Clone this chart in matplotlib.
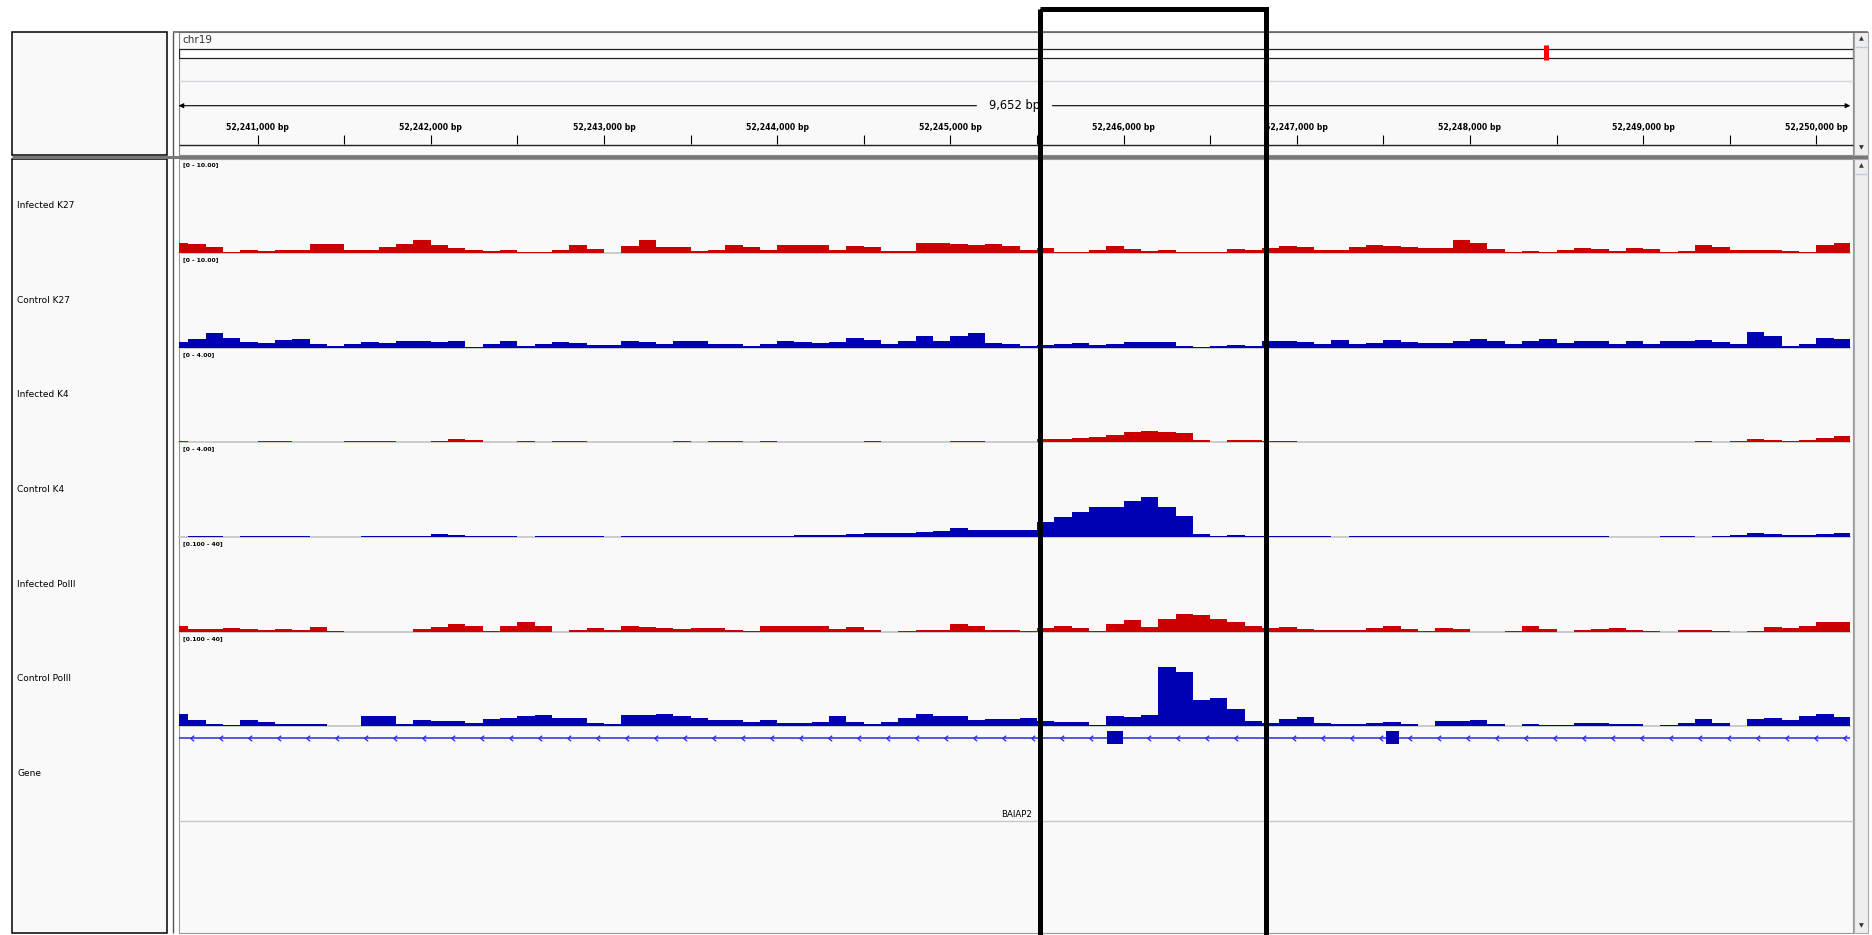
import numpy as np
import matplotlib
matplotlib.use('Agg')
import matplotlib.pyplot as plt
from matplotlib.patches import Rectangle
from matplotlib.path import Path

W, H = 1872, 935

# locus shown in the browser
chrom = 'chr19'
chrom_length = 64000000
view_start = 52240544
view_end = 52250196
bin_start = 52240500
bin_size = 100

# highlighted region (black box)
highlight = (52245520, 52246820)

track_names = ['Infected K27', 'Control K27', 'Infected K4', 'Control K4',
               'Infected PolII', 'Control PolII']
range_labels = ['[0 - 10.00]', '[0 - 10.00]', '[0 - 4.00]', '[0 - 4.00]',
                '[0.100 - 40]', '[0.100 - 40]']
track_limits = [(0, 10.0), (0, 10.0), (0, 4.0), (0, 4.0), (0.1, 40.0), (0.1, 40.0)]

# coverage, 100 bp bins starting at bin_start
inf_k27 = [1.05, 0.95, 0.6, 0.1, 0.3, 0.2, 0.3, 0.3, 0.95, 0.9,
           0.35, 0.35, 0.65, 0.9, 1.35, 0.85, 0.55, 0.35, 0.25, 0.3,
           0.05, 0.1, 0.3, 0.8, 0.4, 0.0, 0.7, 1.4, 0.65, 0.65,
           0.2, 0.3, 0.85,
           0.65, 0.35, 0.8, 0.85, 0.8, 0.3, 0.7, 0.65, 0.2, 0.2,
           1.0, 1.0, 0.9, 0.85, 0.9, 0.7, 0.3, 0.5, 0.1, 0.1,
           0.3, 0.7, 0.45, 0.2, 0.3, 0.1, 0.05, 0.05, 0.45, 0.35,
           0.5, 0.7,
           0.65, 0.3, 0.35, 0.65, 0.8, 0.7, 0.65, 0.55, 0.55, 1.4,
           1.1, 0.45, 0.15, 0.2, 0.05, 0.35, 0.5, 0.45, 0.2, 0.5,
           0.45, 0.15, 0.2, 0.85, 0.65, 0.3, 0.35, 0.3, 0.2, 0.1,
           0.85, 1.0]
ctrl_k27 = [0.55, 0.9, 1.5, 1.0, 0.55, 0.5, 0.8, 0.9, 0.35, 0.2,
            0.35, 0.55, 0.5, 0.7, 0.65, 0.55, 0.7, 0.1, 0.35, 0.75,
            0.2, 0.4, 0.55, 0.5, 0.25, 0.25, 0.7, 0.55, 0.35, 0.7,
            0.75, 0.4, 0.35,
            0.2, 0.35, 0.7, 0.55, 0.5, 0.55, 1.0, 0.85, 0.4, 0.65,
            1.25, 0.75, 1.25, 1.5, 0.5, 0.4, 0.2, 0.3, 0.35, 0.5,
            0.3, 0.4, 0.55, 0.55, 0.55, 0.15, 0.05, 0.2, 0.3, 0.2,
            0.65, 0.7,
            0.55, 0.4, 0.85, 0.4, 0.5, 0.85, 0.55, 0.5, 0.5, 0.7,
            0.9, 0.65, 0.4, 0.75, 0.9, 0.5, 0.7, 0.65, 0.4, 0.65,
            0.35, 0.7, 0.75, 0.85, 0.55, 0.35, 1.6, 1.2, 0.15, 0.35,
            1.05, 0.9]
inf_k4 = [0.04, 0.02, 0.03, 0.02, 0.0, 0.04, 0.04, 0.02, 0.0, 0.02,
          0.04, 0.07, 0.05, 0.02, 0.03, 0.06, 0.12, 0.1, 0.02, 0.0,
          0.04, 0.02, 0.05, 0.05, 0.02, 0.0, 0.03, 0.02, 0.0, 0.04,
          0.02, 0.04, 0.04,
          0.03, 0.04, 0.03, 0.03, 0.02, 0.03, 0.03, 0.04, 0.03, 0.02,
          0.03, 0.03, 0.05, 0.05, 0.03, 0.02, 0.02, 0.12, 0.16, 0.19,
          0.22, 0.3, 0.43, 0.46, 0.44, 0.4, 0.08, 0.02, 0.1, 0.08,
          0.04, 0.05,
          0.02, 0.01, 0.03, 0.03, 0.02, 0.03, 0.03, 0.03, 0.03, 0.03,
          0.0, 0.02, 0.0, 0.01, 0.02, 0.03, 0.03, 0.03, 0.0, 0.03,
          0.03, 0.03, 0.01, 0.04, 0.03, 0.06, 0.12, 0.1, 0.07, 0.11,
          0.2, 0.28]
ctrl_k4 = [0.01, 0.03, 0.03, 0.0, 0.03, 0.03, 0.03, 0.02, 0.0, 0.0,
           0.0, 0.02, 0.02, 0.03, 0.06, 0.12, 0.1, 0.05, 0.04, 0.03,
           0.0, 0.03, 0.04, 0.05, 0.03, 0.01, 0.05, 0.04, 0.03, 0.02,
           0.05, 0.06, 0.05,
           0.04, 0.04, 0.06, 0.08, 0.08, 0.08, 0.11, 0.15, 0.15, 0.18,
           0.23, 0.25, 0.37, 0.31, 0.31, 0.28, 0.31, 0.65, 0.85, 1.05,
           1.25, 1.25, 1.5, 1.7, 1.25, 0.9, 0.12, 0.04, 0.07, 0.06,
           0.04, 0.04,
           0.02, 0.02, 0.0, 0.02, 0.02, 0.02, 0.02, 0.02, 0.03, 0.03,
           0.03, 0.02, 0.04, 0.04, 0.03, 0.03, 0.03, 0.03, 0.01, 0.0,
           0.01, 0.04, 0.03, 0.0, 0.03, 0.08, 0.16, 0.12, 0.08, 0.1,
           0.12, 0.16]
inf_pol2 = [2.5, 1.2, 1.2, 1.6, 1.2, 0.65, 1.2, 0.9, 2.1, 0.5,
            0.1, 0.1, 0.1, 0.1, 1.2, 2.1, 3.2, 2.35, 0.4, 2.6,
            4.2, 2.6, 0.1, 0.65, 1.8, 0.9, 2.35, 2.1, 1.5, 1.2,
            1.8, 1.5, 0.9,
            0.4, 2.6, 2.35, 2.6, 2.6, 1.2, 2.1, 0.65, 0.1, 0.4,
            0.9, 0.65, 3.2, 2.6, 0.9, 0.65, 0.4, 1.8, 2.6, 1.5,
            0.4, 3.5, 4.9, 2.1, 5.6, 7.7, 7.1, 5.4, 4.2, 2.6,
            1.5, 2.1,
            1.2, 0.65, 0.65, 0.9, 1.8, 2.6, 1.2, 0.4, 1.8, 1.2,
            0.1, 0.1, 0.4, 2.35, 1.2, 0.1, 0.65, 1.2, 1.5, 0.9,
            0.4, 0.1, 0.65, 0.65, 0.4, 0.1, 0.4, 2.1, 1.8, 2.6,
            4.3, 4.3]
ctrl_pol2 = [5.2, 2.6, 0.95, 0.65, 2.6, 1.8, 0.95, 0.95, 1.2, 0.4,
             0.1, 4.3, 4.6, 1.2, 2.9, 2.35, 2.35, 1.5, 3.2, 3.75,
             4.6, 4.9, 3.75, 3.75, 1.5, 0.95, 4.9, 4.9, 5.4, 4.3,
             3.5, 2.6, 2.6,
             1.8, 2.9, 1.5, 1.5, 1.8, 4.6, 1.8, 0.95, 2.1, 3.75,
             5.2, 4.6, 4.6, 2.9, 3.2, 3.2, 3.5, 2.35, 1.8, 1.8,
             0.6, 4.3, 4.0, 5.0, 25.0, 23.0, 11.0, 12.2, 7.5, 2.2,
             1.5, 3.2,
             4.0, 1.5, 1.2, 1.2, 1.5, 1.8, 1.2, 0.4, 2.35, 2.35,
             2.6, 0.95, 0.4, 1.2, 0.65, 0.65, 1.5, 1.5, 0.95, 1.2,
             0.4, 0.65, 1.5, 3.2, 1.5, 0.4, 3.2, 3.75, 2.9, 4.3,
             5.2, 4.0]

track_data = [inf_k27, ctrl_k27, inf_k4, ctrl_k4, inf_pol2, ctrl_pol2]
red = '#cc0000'
blue = '#0000b4'
track_colors = [red, blue, red, blue, red, blue]

# ruler labels every 1 kb
ruler_ticks = [52241000, 52242000, 52243000, 52244000, 52245000,
               52246000, 52247000, 52248000, 52249000, 52250000]

# gene model
gene_name = 'BAIAP2'
gene_start, gene_end = 52230000, 52262000
exon_starts = [52245904, 52247515]
exon_ends = [52245997, 52247590]

panel_bg = '#f9f9f9'

fig = plt.figure(figsize=(W / 100, H / 100), dpi=100)
fig.patch.set_facecolor('white')


def px_axes(x0, y0, x1, y1, z=1):
    ax = fig.add_axes([x0 / W, 1 - y1 / H, (x1 - x0) / W, (y1 - y0) / H], zorder=z)
    ax.set_axis_off()
    return ax


# background frame in pixel coords
bg = px_axes(0, 0, W, H, z=0)
bg.set_xlim(0, W)
bg.set_ylim(H, 0)

DX0, DX1 = 178.6, 1850.3
TOP, SEP, BOT = 32, 157, 933
TH = (726 - 158) / 6

# name panel
bg.add_patch(Rectangle((12, TOP), 154.5, 123, fc=panel_bg, ec='black', lw=1.1))
bg.add_patch(Rectangle((12, 158.5), 154.5, BOT - 158.5, fc=panel_bg, ec='black', lw=1.1))
bg.vlines(172.5, TOP, BOT, color='#555555', lw=1.0)
# data panels
bg.add_patch(Rectangle((DX0, TOP), 1853 - DX0, 123, fc=panel_bg, ec='#888888', lw=0.8))
bg.add_patch(Rectangle((DX0, 158.5), 1853 - DX0, BOT - 158.5, fc=panel_bg, ec='#999999', lw=0.8))
bg.hlines(TOP, 172.5, 1868, color='#666666', lw=1.2)
bg.hlines(SEP, 12, 1868, color='#777777', lw=2.2)
# scrollbars
for y0, y1 in [(TOP, 155), (158.5, BOT)]:
    bg.add_patch(Rectangle((1854, y0), 14, y1 - y0, fc='#eeeeee', ec='#aaaaaa', lw=0.8))
    bg.text(1861, y0 + 7, '\u25b2', fontsize=4.5, ha='center', va='center', color='#333333')
    bg.text(1861, y1 - 7, '\u25bc', fontsize=4.5, ha='center', va='center', color='#333333')
    bg.hlines(y0 + 15, 1855, 1867, color='#b8cbe0', lw=1.0)

# header: chromosome name, separator lines
bg.text(182, 40, chrom, fontsize=7.5, va='center', ha='left', color='#333333')
bg.hlines(81, DX0, 1853, color='#d4d4dc', lw=1.0)
bg.hlines(145, DX0, 1853, color='#222222', lw=1.0)

# ideogram
ideo = px_axes(179, 44, 1853, 61)
ideo.set_xlim(0, chrom_length)
ideo.set_ylim(61, 44)
ideo.add_patch(Rectangle((0, 48.5), chrom_length, 9, fc='white', ec='#222222', lw=0.9))
ideo.vlines((view_start + view_end) / 2, 45, 59.5, color='#ff0000', lw=3.6)

# ruler
rax = px_axes(DX0, TOP, DX1, 155)
rax.set_xlim(view_start, view_end)
rax.set_ylim(155, TOP)
for t in ruler_ticks:
    rax.vlines([t, t - 500], 135, 144, color='black', lw=0.8)
    rax.text(t, 127, f'{t:,} bp', ha='center', va='center', fontsize=5.6, fontweight='bold')
width_bp = view_end - view_start
mid = (view_start + view_end) / 2
gap = 38 * width_bp / (DX1 - DX0)
arrow = dict(arrowstyle='-|>', color='black', lw=0.8, mutation_scale=7, shrinkA=0, shrinkB=0)
rax.annotate('', xy=(view_start, 105.7), xytext=(mid - gap, 105.7), arrowprops=arrow)
rax.annotate('', xy=(view_end, 105.7), xytext=(mid + gap, 105.7), arrowprops=arrow)
rax.text(mid, 105.7, f'{width_bp:,} bp', ha='center', va='center', fontsize=8.3)

# data tracks (bar charts, one bar per bin)
bins = bin_start + bin_size * np.arange(len(inf_k27))
for i, (name, lab, lim, vals, col) in enumerate(zip(track_names, range_labels, track_limits,
                                                    track_data, track_colors)):
    top = 158.3 + i * TH
    ax = px_axes(DX0, top, DX1, top + TH)
    ax.set_xlim(view_start, view_end)
    ax.set_ylim(*lim)
    ax.axhline(lim[0], color='#c8c8c8', lw=1.3, zorder=0, clip_on=False)
    ax.bar(bins, vals, width=bin_size, align='edge', bottom=0, color=col, lw=0, zorder=2)
    ax.text(0.0026, 1 - 6.7 / TH, lab, transform=ax.transAxes, fontsize=4.4,
            fontweight='bold', va='center', ha='left')
    bg.text(17, top + TH / 2, name, fontsize=6.5, va='center', ha='left')

# gene track
g_top, g_bot = 726, 821
bg.text(17, 774, 'Gene', fontsize=6.5, va='center', ha='left')
bg.hlines(g_bot, DX0, 1853, color='#c8c8c8', lw=1.0)
gax = px_axes(DX0, g_top, DX1, g_bot)
gax.set_xlim(view_start, view_end)
gax.set_ylim(g_bot, g_top)
gene_col = '#2a2ae0'
gax.hlines(737.7, gene_start, gene_end, color=gene_col, lw=1.1)
chev = Path([(0.6, 1), (-0.6, 0), (0.6, -1)], [Path.MOVETO, Path.LINETO, Path.LINETO])
chev_x = np.arange(view_start + 76, view_end, 29 * width_bp / (DX1 - DX0))
gax.plot(chev_x, np.full(len(chev_x), 737.7), ls='none', marker=chev, ms=4,
         mfc='none', mec=gene_col, mew=0.9)
for s, e in zip(exon_starts, exon_ends):
    gax.add_patch(Rectangle((s, 731), e - s, 13, fc='#0000b2', ec='none', zorder=3))
gax.text(mid + 10, 814, gene_name, ha='center', va='center', fontsize=6.2)

# highlight box drawn over everything
ov = px_axes(DX0, 0, DX1, H, z=10)
ov.set_xlim(view_start, view_end)
ov.set_ylim(H, 0)
ov.add_patch(Rectangle((highlight[0], 9), highlight[1] - highlight[0], H + 40,
                       fill=False, ec='black', lw=3.6, joinstyle='miter', clip_on=False))

fig.savefig('out.png', dpi=100, facecolor='white')
